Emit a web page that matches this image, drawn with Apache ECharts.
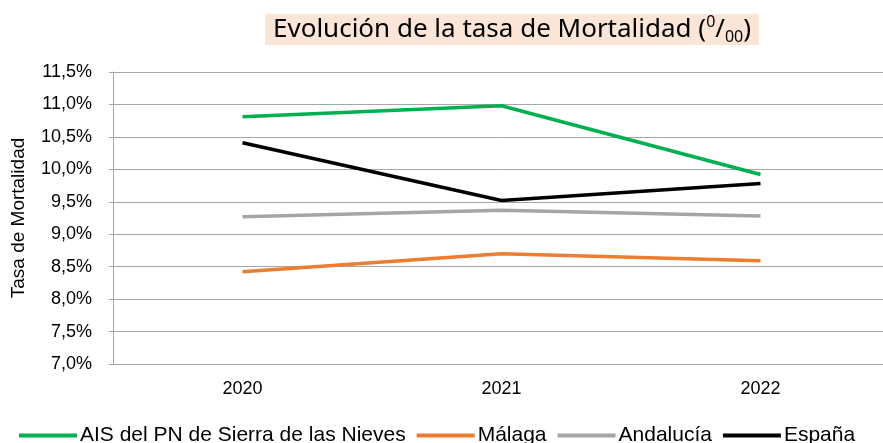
<!DOCTYPE html>
<html>
<head>
    <meta charset="utf-8">
    <title>ECharts</title>
    <script src="https://cdn.jsdelivr.net/npm/echarts@6/dist/echarts.min.js"></script>
</head>
<body style="margin:0">
    <div id="main" style="width: 883px;height:443px;"></div>
    <script type="text/javascript">
        // datos
        var years = ['2020', '2021', '2022'];
        var sierraNieves = [10.81, 10.98, 9.92];
        var malaga = [8.42, 8.70, 8.59];
        var andalucia = [9.27, 9.37, 9.28];
        var espana = [10.41, 9.52, 9.78];

        var myChart = echarts.init(document.getElementById('main'));

        function serie(name, data, color) {
            return {
                name: name,
                type: 'line',
                data: data,
                symbol: 'none',
                lineStyle: { width: 3.5, color: color },
                itemStyle: { color: color }
            };
        }

        myChart.setOption({
            animation: false,
            title: {
                text: '{a|Evolución de la tasa de Mortalidad (}{sup|0}{a|/}{sub|00}{a|)}',
                left: 265,
                top: 14,
                backgroundColor: '#FBE5D6',
                padding: [0, 8, 0, 8],
                textStyle: {
                    fontWeight: 'normal',
                    rich: {
                        a: { fontFamily: 'Noto Sans', fontWeight: 'normal', fontSize: 26, color: '#000', lineHeight: 31 },
                        sup: { fontFamily: 'Noto Sans', fontWeight: 'normal', fontSize: 16, color: '#000', verticalAlign: 'top', lineHeight: 31, padding: [0, 0, 10, 0] },
                        sub: { fontFamily: 'Noto Sans', fontWeight: 'normal', fontSize: 16, color: '#000', verticalAlign: 'bottom', lineHeight: 31, padding: [6, 0, 0, 0] }
                    }
                }
            },
            legend: {
                data: ['AIS del PN de Sierra de las Nieves', 'Málaga', 'Andalucía', 'España'],
                left: 14,
                top: 420,
                itemWidth: 58,
                itemHeight: 4,
                itemGap: 11,
                icon: 'rect',
                textStyle: { fontFamily: 'Liberation Sans', fontSize: 21, color: '#000', padding: [0, 0, 0, -2] }
            },
            grid: {
                left: 113,
                top: 72,
                width: 777,
                height: 292,
                outerBoundsMode: 'none'
            },
            xAxis: {
                type: 'category',
                data: years,
                axisLine: { lineStyle: { color: '#A6A6A6', width: 1 } },
                axisTick: { show: false },
                axisLabel: { fontFamily: 'Liberation Sans', fontSize: 18, color: '#000', margin: 16 }
            },
            yAxis: {
                type: 'value',
                min: 7,
                max: 11.5,
                interval: 0.5,
                name: 'Tasa de Mortalidad',
                nameLocation: 'middle',
                nameGap: 85,
                nameTextStyle: { fontFamily: 'Liberation Sans', fontSize: 19, color: '#000' },
                axisLine: { show: true, lineStyle: { color: '#A6A6A6', width: 1 } },
                axisTick: { show: true, length: 4, lineStyle: { color: '#A6A6A6' } },
                splitLine: { lineStyle: { color: '#A6A6A6', width: 1 } },
                axisLabel: {
                    fontFamily: 'Liberation Sans',
                    fontSize: 18,
                    color: '#000',
                    margin: 21,
                    formatter: function (v) { return v.toFixed(1).replace('.', ',') + '%'; }
                }
            },
            series: [
                serie('AIS del PN de Sierra de las Nieves', sierraNieves, '#00B050'),
                serie('Málaga', malaga, '#ED7D31'),
                serie('Andalucía', andalucia, '#A5A5A5'),
                serie('España', espana, '#000000')
            ]
        });
    </script>
</body>
</html>
